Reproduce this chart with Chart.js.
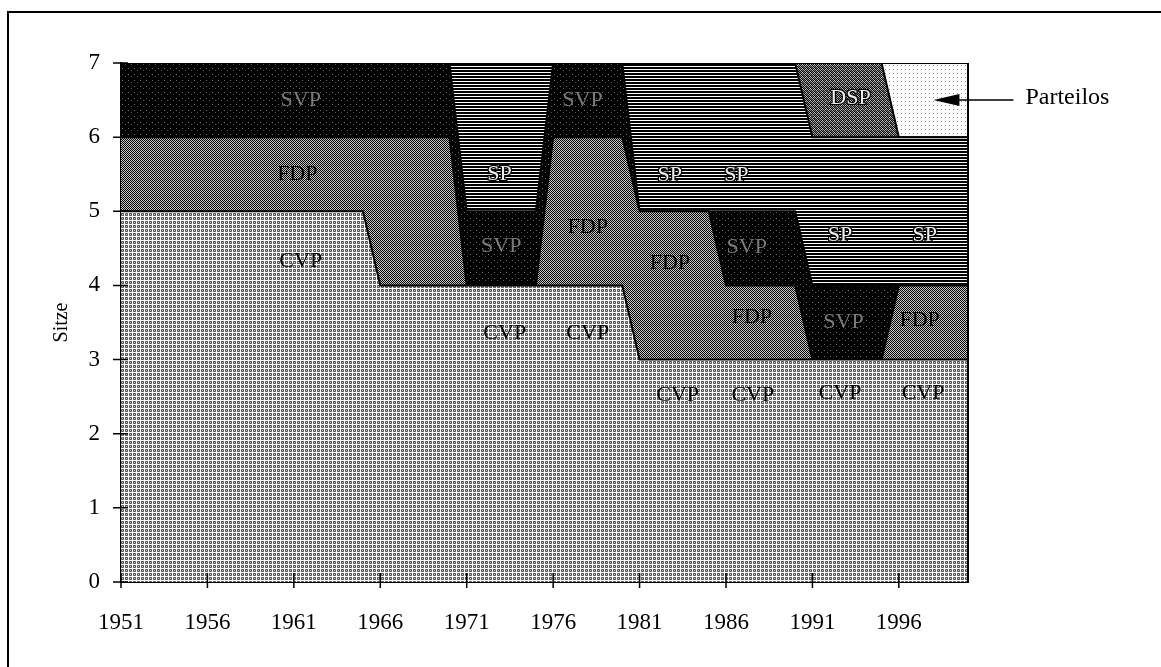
<!DOCTYPE html>
<html lang="de">
<head>
    <meta charset="UTF-8">
    <title>Sitze</title>
    <script src="https://cdn.jsdelivr.net/npm/chart.js"></script>
    <style>
        html, body { margin: 0; padding: 0; background: #fff; }
        #wrap { width: 1161px; height: 667px; }
    </style>
</head>
<body>
    <div id="wrap"><canvas id="graphique" width="1161" height="667"></canvas></div>

    <script>
        // Stützjahre: erstes und letztes Jahr jeder Periode
        const jahre     = [1951, 1965, 1966, 1970, 1971, 1975, 1976, 1980, 1981, 1985, 1986, 1990, 1991, 1995, 1996, 2000];
        const cvp       = [5, 5, 4, 4, 4, 4, 4, 4, 3, 3, 3, 3, 3, 3, 3, 3];
        const fdp       = [1, 1, 2, 2, 0, 0, 2, 2, 2, 2, 1, 1, 0, 0, 1, 1];
        const svp       = [1, 1, 1, 1, 1, 1, 1, 1, 0, 0, 1, 1, 1, 1, 0, 0];
        const sp        = [0, 0, 0, 0, 2, 2, 0, 0, 2, 2, 2, 2, 2, 2, 2, 2];
        const dsp       = [0, 0, 0, 0, 0, 0, 0, 0, 0, 0, 0, 0, 1, 1, 0, 0];
        const parteilos = [0, 0, 0, 0, 0, 0, 0, 0, 0, 0, 0, 0, 0, 0, 1, 1];

        const jahrTicks = [1951, 1956, 1961, 1966, 1971, 1976, 1981, 1986, 1991, 1996];
        const sitzTicks = [0, 1, 2, 3, 4, 5, 6, 7];

        // Beschriftungen in den Flächen: [Text, Jahr, Sitzhöhe]
        const flaechenText = [
            ['SVP', 1961.4, 6.5], ['FDP', 1961.2, 5.5], ['CVP', 1961.4, 4.32],
            ['SP', 1972.9, 5.5], ['SVP', 1973.0, 4.53], ['CVP', 1973.2, 3.36],
            ['SVP', 1977.7, 6.5], ['FDP', 1978.0, 4.79], ['CVP', 1978.0, 3.36],
            ['SP', 1982.75, 5.48], ['SP', 1986.6, 5.48], ['FDP', 1982.75, 4.3], ['CVP', 1983.2, 2.52],
            ['SVP', 1987.2, 4.52], ['FDP', 1987.5, 3.57], ['CVP', 1987.55, 2.52],
            ['DSP', 1993.2, 6.53], ['SP', 1992.6, 4.68], ['SVP', 1992.8, 3.5], ['CVP', 1992.6, 2.55],
            ['SP', 1997.5, 4.68], ['FDP', 1997.2, 3.53], ['CVP', 1997.4, 2.55]
        ];
        const pfeilText = ['Parteilos', 1998, 6.5];

        const schrift = "'Liberation Serif', 'Times New Roman', serif";
        const ctx = document.getElementById('graphique').getContext('2d');

        // kleine Rastermuster wie im Schwarzweissdruck (Ziffer = Graustufe 0..9)
        function muster(zeilen) {
            const c = document.createElement('canvas');
            c.width = zeilen[0].length;
            c.height = zeilen.length;
            const g = c.getContext('2d');
            zeilen.forEach((z, y) => {
                for (let x = 0; x < z.length; x++) {
                    const v = Math.round(Number(z[x]) * 255 / 9);
                    g.fillStyle = `rgb(${v},${v},${v})`;
                    g.fillRect(x, y, 1, 1);
                }
            });
            return ctx.createPattern(c, 'repeat');
        }

        const musterCVP = muster(['9999', '9434', '9373', '9434']);
        const musterFDP = muster(['07', '70']);
        const musterSVP = muster(['000000', '000000', '004000', '000000', '000003', '000000']);
        const musterSP  = muster(['9', '0', '0']);
        const musterDSP = muster(['4070', '0716', '6041', '1604']);
        const musterPL  = muster(['9999', '9599', '9999', '9999']);

        function reihe(name, werte, fuellung, fill) {
            return {
                label: name,
                data: jahre.map((j, i) => ({ x: j, y: werte[i] })),
                backgroundColor: fuellung,
                borderColor: '#000',
                borderWidth: 2,
                fill: fill,
                pointRadius: 0,
                tension: 0
            };
        }

        const rahmen = {
            id: 'rahmen',
            beforeDraw(chart) {
                const c = chart.ctx;
                c.save();
                c.fillStyle = '#fff';
                c.fillRect(0, 0, chart.width, chart.height);
                c.strokeStyle = '#000';
                c.lineWidth = 2;
                c.beginPath();
                c.moveTo(8, chart.height);
                c.lineTo(8, 12);
                c.lineTo(chart.width, 12);
                c.stroke();
                c.restore();
            },
            afterDraw(chart) {
                const c = chart.ctx;
                const a = chart.chartArea;
                const sx = chart.scales.x, sy = chart.scales.y;
                c.save();
                c.strokeStyle = '#000';
                c.lineWidth = 2;
                c.beginPath();
                c.moveTo(a.right, a.top);
                c.lineTo(a.right, a.bottom);
                c.stroke();

                // Teilstriche über die Achse hinweg
                c.lineWidth = 1.5;
                c.beginPath();
                jahrTicks.forEach(j => {
                    const px = sx.getPixelForValue(j);
                    c.moveTo(px, a.bottom - 9);
                    c.lineTo(px, a.bottom + 6);
                });
                sitzTicks.forEach(s => {
                    const py = sy.getPixelForValue(s);
                    c.moveTo(a.left - 8, py);
                    c.lineTo(a.left + 7, py);
                });
                c.stroke();

                // Parteikürzel
                c.font = '22px ' + schrift;
                c.textAlign = 'center';
                c.textBaseline = 'middle';
                flaechenText.forEach(([t, j, s]) => {
                    const px = sx.getPixelForValue(j);
                    const py = sy.getPixelForValue(s);
                    if (t === 'SVP') {
                        c.fillStyle = '#7a7a7a';
                        c.fillText(t, px, py);
                    } else if (t === 'SP' || t === 'DSP') {
                        c.lineWidth = 2.5;
                        c.strokeStyle = '#000';
                        c.strokeText(t, px, py);
                        c.fillStyle = '#eeeeee';
                        c.fillText(t, px, py);
                    } else {
                        c.fillStyle = '#000';
                        c.fillText(t, px, py);
                    }
                });

                // Pfeil zu den Parteilosen
                const tx = sx.getPixelForValue(pfeilText[1]);
                const ty = sy.getPixelForValue(pfeilText[2]);
                c.fillStyle = '#000';
                c.strokeStyle = '#000';
                c.lineWidth = 1.5;
                c.beginPath();
                c.moveTo(tx, ty);
                c.lineTo(tx + 26, ty - 6);
                c.lineTo(tx + 26, ty + 6);
                c.closePath();
                c.fill();
                c.beginPath();
                c.moveTo(tx + 24, ty);
                c.lineTo(tx + 80, ty);
                c.stroke();
                c.font = '24px ' + schrift;
                c.textAlign = 'left';
                c.fillText(pfeilText[0], tx + 92, ty - 2);
                c.restore();
            }
        };

        const tickFont = { family: schrift, size: 23 };

        new Chart(ctx, {
            type: 'line',
            data: {
                datasets: [
                    reihe('CVP', cvp, musterCVP, 'origin'),
                    reihe('FDP', fdp, musterFDP, '-1'),
                    reihe('SVP', svp, musterSVP, '-1'),
                    reihe('SP', sp, musterSP, '-1'),
                    reihe('DSP', dsp, musterDSP, '-1'),
                    reihe('Parteilos', parteilos, musterPL, '-1')
                ]
            },
            options: {
                responsive: false,
                animation: false,
                layout: { padding: { left: 30, top: 63, right: 193, bottom: 30 } },
                plugins: {
                    legend: { display: false },
                    tooltip: { enabled: false }
                },
                scales: {
                    x: {
                        type: 'linear',
                        min: 1951,
                        max: 2000,
                        afterBuildTicks: s => { s.ticks = jahrTicks.map(v => ({ value: v })); },
                        afterFit: s => { s.height = 55; },
                        grid: { display: false, drawTicks: false },
                        border: { display: true, color: '#000', width: 2 },
                        ticks: {
                            color: '#000',
                            font: tickFont,
                            padding: 27,
                            autoSkip: false,
                            maxRotation: 0,
                            callback: v => String(v)
                        }
                    },
                    y: {
                        stacked: true,
                        min: 0,
                        max: 7,
                        afterBuildTicks: s => { s.ticks = sitzTicks.map(v => ({ value: v })); },
                        afterFit: s => { s.width = 91; },
                        grid: { display: false, drawTicks: false },
                        border: { display: true, color: '#000', width: 2 },
                        ticks: {
                            color: '#000',
                            font: tickFont,
                            padding: 21
                        },
                        title: {
                            display: true,
                            text: 'Sitze',
                            color: '#000',
                            font: { family: schrift, size: 20 },
                            padding: { top: 20, bottom: 0 }
                        }
                    }
                }
            },
            plugins: [rahmen]
        });
    </script>
</body>
</html>
